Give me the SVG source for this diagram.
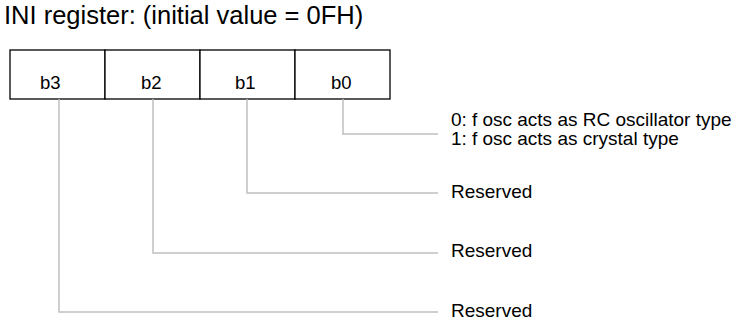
<svg xmlns="http://www.w3.org/2000/svg" width="739" height="320" viewBox="0 0 739 320">
<style>
text{font-family:"Liberation Sans",Arial,sans-serif;fill:#000}
.title{font-size:25.5px}
.bit{font-size:18.5px}
.lbl{font-size:19px}
.cell{fill:#fff;stroke:#000;stroke-width:1.3}
.con{fill:none;stroke:#c0c0c0;stroke-width:1.5}
</style>
<rect width="739" height="320" fill="#fff"/>
<text class="title" x="4" y="24">INI register: (initial value = 0FH)</text>
<g id="b3"><rect class="cell" x="10" y="50" width="95" height="49"/><text class="bit" x="40" y="89">b3</text></g>
<g id="b2"><rect class="cell" x="105" y="50" width="95" height="49"/><text class="bit" x="141" y="89">b2</text></g>
<g id="b1"><rect class="cell" x="200" y="50" width="95" height="49"/><text class="bit" x="235" y="89">b1</text></g>
<g id="b0"><rect class="cell" x="295" y="50" width="95" height="49"/><text class="bit" x="331" y="89">b0</text></g>
<g id="connectors">
<polyline class="con" points="343,99 343,134 438,134"/>
<polyline class="con" points="247,99 247,193 438,193"/>
<polyline class="con" points="153,99 153,253 438,253"/>
<polyline class="con" points="59,99 59,312 438,312"/>
</g>
<g id="desc0"><text class="lbl" x="451" y="126">0: f<tspan dx="5">osc acts as RC oscillator type</tspan></text>
<text class="lbl" x="451" y="145">1: f<tspan dx="5">osc acts as crystal type</tspan></text></g>
<g id="desc1"><text class="lbl" x="451" y="198">Reserved</text></g>
<g id="desc2"><text class="lbl" x="451" y="257">Reserved</text></g>
<g id="desc3"><text class="lbl" x="451" y="317">Reserved</text></g>
</svg>
